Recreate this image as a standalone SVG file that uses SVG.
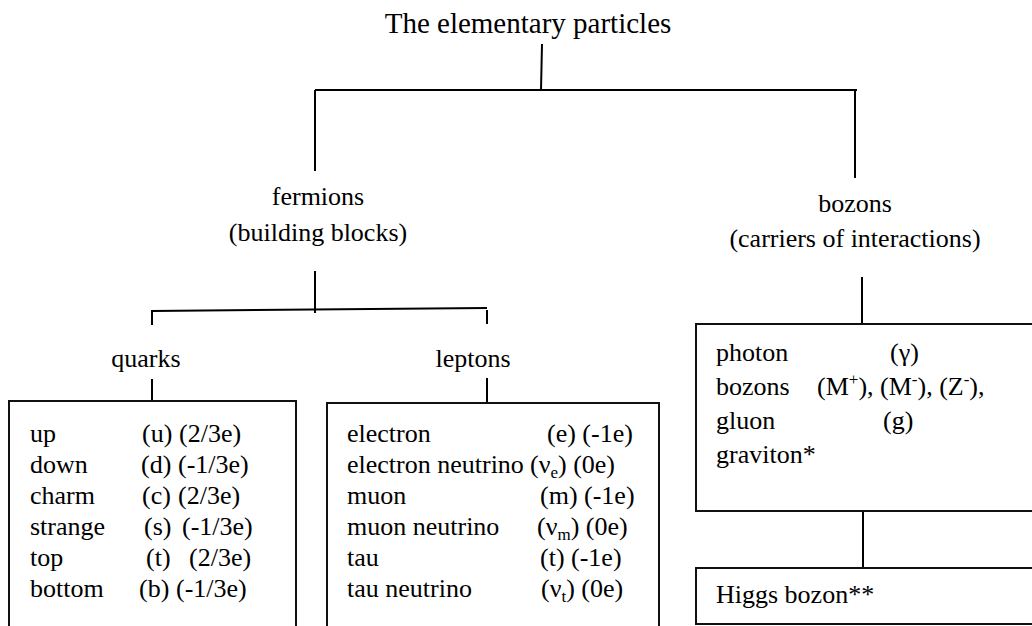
<svg xmlns="http://www.w3.org/2000/svg" width="1032" height="626" viewBox="0 0 1032 626" font-family="'Liberation Serif', Tinos, 'Times New Roman', Times, 'DejaVu Serif', serif">
<style>
text{font-family:'Liberation Serif',Tinos,'Times New Roman',Times,'DejaVu Serif',serif;font-size:26px;fill:#000}
.title{font-size:29px}
.c{text-anchor:middle}
.ln{stroke:#000;stroke-width:2;fill:none}
.box{stroke:#111;stroke-width:2;fill:#fff}
.sub{font-size:17px}
</style>
<rect width="1032" height="626" fill="#fff"/>
<g id="connectors">
<path class="ln" d="M542 44 L541 90"/>
<path class="ln" d="M315 90 H857"/>
<path class="ln" d="M315 90 V171"/>
<path class="ln" d="M855 90 V178"/>
<path class="ln" d="M315 271 V313"/>
<path class="ln" d="M152 325 V311 L487 308"/>
<path class="ln" d="M487 310 V324"/>
<path class="ln" d="M152 379 V401"/>
<path class="ln" d="M487 378 V403"/>
<path class="ln" d="M862 277 V324"/>
<path class="ln" d="M863 511 V568"/>
</g>
<g id="title"><text class="title c" x="528" y="33">The elementary particles</text></g>
<g id="fermions"><text class="c" x="318" y="205">fermions</text><text class="c" x="318" y="241">(building blocks)</text></g>
<g id="bozons"><text class="c" x="855" y="212">bozons</text><text class="c" x="855" y="247">(carriers of interactions)</text></g>
<g id="quarks"><text class="c" x="146" y="367">quarks</text></g>
<g id="leptons"><text class="c" x="473" y="367">leptons</text></g>
<g id="quark-box">
<rect class="box" x="9" y="401" width="287" height="240"/>
<text x="30" y="442">up</text><text x="142" y="442">(u)</text><text x="179" y="442">(2/3e)</text>
<text x="30" y="473">down</text><text x="141" y="473">(d)</text><text x="178" y="473">(-1/3e)</text>
<text x="30" y="504">charm</text><text x="142" y="504">(c)</text><text x="178" y="504">(2/3e)</text>
<text x="30" y="535">strange</text><text x="144" y="535">(s)</text><text x="182" y="535">(-1/3e)</text>
<text x="30" y="566">top</text><text x="146" y="566">(t)</text><text x="189" y="566">(2/3e)</text>
<text x="30" y="597">bottom</text><text x="139" y="597">(b)</text><text x="176" y="597">(-1/3e)</text>
</g>
<g id="lepton-box">
<rect class="box" x="327" y="403" width="332" height="240"/>
<text x="347" y="442">electron</text><text x="547" y="442">(e) (-1e)</text>
<text x="347" y="473">electron neutrino</text><text x="530" y="473">(ν<tspan class="sub" dy="5">e</tspan><tspan dy="-5">) (0e)</tspan></text>
<text x="347" y="504">muon</text><text x="540" y="504">(m) (-1e)</text>
<text x="347" y="535">muon neutrino</text><text x="537" y="535">(ν<tspan class="sub" dy="5">m</tspan><tspan dy="-5">) (0e)</tspan></text>
<text x="347" y="566">tau</text><text x="540" y="566">(t) (-1e)</text>
<text x="347" y="597">tau neutrino</text><text x="541" y="597">(ν<tspan class="sub" dy="5">t</tspan><tspan dy="-5">) (0e)</tspan></text>
</g>
<g id="bozon-box">
<rect class="box" x="696" y="324" width="350" height="187"/>
<text x="716" y="361">photon</text><text x="890" y="361">(γ)</text>
<text x="716" y="395">bozons</text><text x="817" y="395">(M<tspan class="sub" dy="-10">+</tspan><tspan dy="10">), (M</tspan><tspan class="sub" dy="-10">-</tspan><tspan dy="10">), (Z</tspan><tspan class="sub" dy="-10">-</tspan><tspan dy="10">),</tspan></text>
<text x="716" y="429">gluon</text><text x="883" y="429">(g)</text>
<text x="716" y="463">graviton*</text>
</g>
<g id="higgs-box">
<rect class="box" x="696" y="568" width="350" height="56"/>
<text x="716" y="603">Higgs bozon**</text>
</g>
</svg>
